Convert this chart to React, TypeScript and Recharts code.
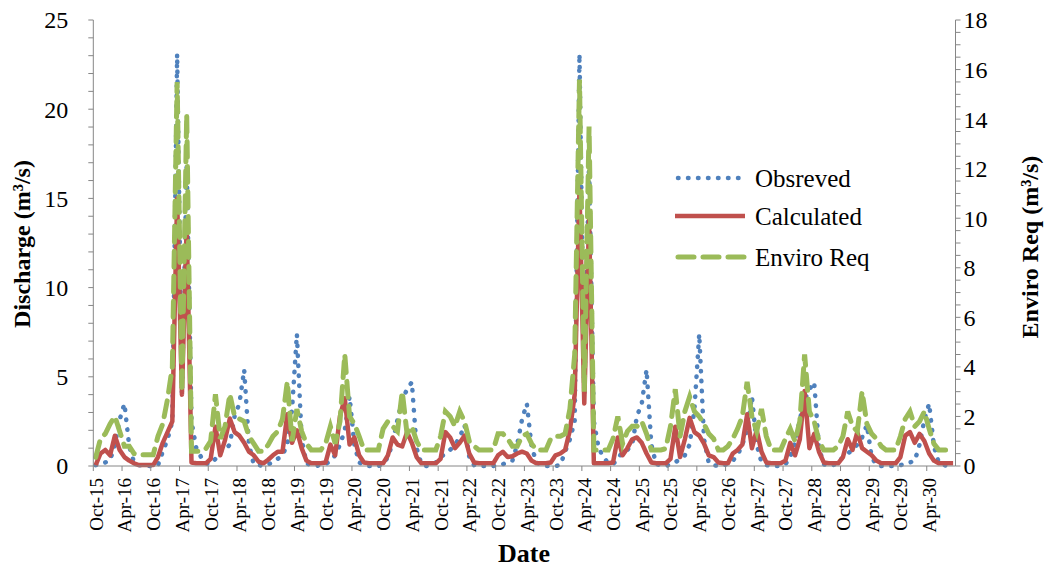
import React from 'react';
import { LineChart, Line, XAxis, YAxis, Legend } from 'recharts';

// month labels, Oct-15 .. Sep-30
const MONTHS = ['Oct', 'Nov', 'Dec', 'Jan', 'Feb', 'Mar', 'Apr', 'May', 'Jun', 'Jul', 'Aug', 'Sep'];
const dates = Array.from({ length: 180 }, (_, i) =>
  `${MONTHS[i % 12]}-${15 + Math.floor((i + 9) / 12)}`
);

// Observed discharge (m3/s), one row per Oct..Sep year
const observed = [
  0.05, 0.1, 0.2, 0.3, 1.2, 2.6, 3.5, 1.1, 0.2, 0.05, 0, 0,
  0, 0.05, 0.8, 1.5, 2.5, 23.1, 4.0, 17.0, 2.5, 1.0, 0.5, 0.15,
  0.1, 0.4, 0.8, 0.9, 1.2, 2.8, 3.5, 5.4, 1.2, 0.1, 0.05, 0,
  0.1, 0.2, 0.4, 0.6, 1.2, 3.2, 7.4, 1.5, 0.15, 0.05, 0, 0.05,
  0.1, 0.3, 0.6, 1.2, 2.0, 3.9, 1.2, 0.2, 0.05, 0, 0, 0,
  0.1, 0.5, 1.3, 2.6, 3.7, 4.3, 4.7, 1.0, 0.1, 0, 0.05, 0.2,
  0.5, 0.7, 0.9, 1.2, 1.6, 2.3, 0.5, 0.05, 0, 0, 0, 0,
  0.05, 0.1, 0.2, 0.3, 1.2, 2.6, 3.5, 1.1, 0.2, 0.05, 0, 0,
  0, 0.05, 0.8, 1.5, 2.5, 23.1, 4.0, 17.0, 2.5, 1.0, 0.5, 0.15,
  0.1, 0.4, 0.8, 0.9, 1.2, 2.8, 3.5, 5.4, 1.2, 0.1, 0.05, 0,
  0.1, 0.2, 0.4, 0.6, 1.2, 3.2, 7.4, 1.5, 0.15, 0.05, 0, 0.05,
  0.1, 0.3, 0.6, 1.2, 2.0, 3.9, 1.2, 0.2, 0.05, 0, 0, 0,
  0.1, 0.5, 1.3, 2.6, 3.7, 4.3, 4.7, 1.0, 0.1, 0, 0.05, 0.2,
  0.5, 0.7, 0.9, 1.2, 1.6, 2.3, 0.5, 0.05, 0, 0, 0, 0,
  0.05, 0.1, 0.2, 0.3, 1.2, 2.6, 3.5, 1.1, 0.2, 0.05, 0, 0,
];

// Calculated discharge (m3/s)
const calculated = [
  0.05, 0.7, 0.9, 0.6, 1.7, 0.9, 0.5, 0.3, 0.15, 0.05, 0.05, 0.05,
  0.05, 0.5, 1.3, 1.9, 2.5, 15.0, 4.0, 13.5, 0.2, 0.15, 0.15, 0.15,
  0.4, 2.2, 0.6, 1.45, 2.66, 1.9, 1.7, 1.3, 0.8, 0.6, 0.25, 0.15,
  0.35, 0.6, 0.8, 0.8, 2.9, 1.3, 2.0, 1.0, 0.3, 0.15, 0.15, 0.15,
  0.2, 1.2, 0.6, 2.8, 3.8, 1.2, 1.6, 0.6, 0.2, 0.15, 0.15, 0.15,
  0.15, 0.6, 1.6, 1.2, 1.1, 1.9, 1.3, 0.5, 0.15, 0.15, 0.15, 0.15,
  0.4, 1.9, 1.6, 1.0, 1.3, 1.7, 0.7, 0.2, 0.15, 0.15, 0.15, 0.15,
  0.6, 0.8, 0.5, 0.55, 0.7, 0.8, 0.7, 0.3, 0.15, 0.15, 0.15, 0.2,
  0.6, 0.7, 0.9, 2.0, 4.0, 15.5, 3.5, 13.8, 0.15, 0.15, 0.15, 0.15,
  0.2, 1.6, 0.6, 1.0, 1.5, 1.6, 1.3, 0.7, 0.2, 0.15, 0.15, 0.15,
  0.4, 2.2, 0.5, 1.5, 2.7, 1.9, 1.7, 1.25, 0.6, 0.5, 0.2, 0.15,
  0.15, 0.7, 0.9, 1.2, 2.9, 1.0, 2.0, 0.8, 0.2, 0.15, 0.15, 0.15,
  0.3, 1.3, 0.6, 1.5, 4.2, 1.0, 1.8, 0.8, 0.2, 0.15, 0.15, 0.15,
  0.5, 1.5, 0.9, 1.9, 1.0, 0.8, 0.6, 0.3, 0.15, 0.15, 0.15, 0.15,
  0.5, 1.7, 1.9, 1.3, 1.8, 1.4, 0.7, 0.3, 0.15, 0.15, 0.15, 0.15,
];

// Environmental requirement (m3/s), right axis
const enviroReq = [
  0.35, 1.1, 1.3, 1.7, 2.0, 1.4, 0.8, 0.8, 0.5, 0.45, 0.45, 0.45,
  0.45, 1.2, 1.7, 2.7, 4.0, 15.5, 3.0, 14.2, 0.6, 0.6, 0.6, 0.7,
  1.0, 2.9, 1.1, 1.6, 2.9, 2.0, 1.9, 1.8, 1.2, 0.9, 0.6, 0.6,
  0.85, 1.2, 1.4, 1.9, 3.4, 1.0, 2.3, 1.4, 0.9, 0.65, 0.65, 0.65,
  0.9, 1.6, 0.9, 1.8, 4.5, 2.0, 1.7, 1.2, 0.65, 0.65, 0.65, 0.65,
  1.5, 1.8, 1.6, 1.4, 3.0, 1.3, 1.6, 1.0, 0.65, 0.65, 0.65, 0.65,
  1.2, 2.2, 2.0, 1.6, 2.2, 1.8, 1.0, 0.8, 0.65, 0.65, 0.65, 0.65,
  1.3, 1.3, 1.1, 0.8, 0.8, 1.2, 1.3, 0.9, 0.65, 0.65, 0.65, 1.1,
  1.2, 1.2, 1.3, 2.3, 4.5, 15.6, 3.0, 13.7, 0.65, 0.65, 0.65, 0.65,
  1.1, 2.0, 0.9, 1.4, 1.6, 1.6, 1.8, 1.3, 0.65, 0.65, 0.65, 0.7,
  1.6, 3.1, 1.2, 2.2, 2.8, 2.2, 2.0, 1.7, 1.3, 1.1, 0.65, 0.65,
  0.8, 1.1, 1.5, 2.0, 3.4, 2.0, 1.4, 2.3, 1.2, 0.65, 0.65, 0.65,
  1.1, 1.5, 1.0, 1.8, 4.5, 2.2, 1.8, 1.0, 0.65, 0.65, 0.65, 0.8,
  1.2, 2.2, 1.6, 1.4, 3.0, 1.7, 1.3, 1.1, 0.8, 0.65, 0.65, 0.65,
  1.2, 1.9, 2.2, 1.6, 1.8, 2.2, 1.5, 0.9, 0.65, 0.65, 0.65, 0.65,
];

const leftTicks = [0, 1, 2, 3, 4, 5, 6, 7, 8, 9, 10, 11, 12, 13, 14, 15, 16, 17, 18, 19, 20, 21, 22, 23, 24, 25];
const rightTicks = [
  0, 0.5, 1, 1.5, 2, 2.5, 3, 3.5, 4, 4.5, 5, 5.5, 6, 6.5, 7, 7.5, 8, 8.5, 9,
  9.5, 10, 10.5, 11, 11.5, 12, 12.5, 13, 13.5, 14, 14.5, 15, 15.5, 16, 16.5, 17, 17.5, 18,
];

const data = dates.map((date, i) => ({
  date,
  observed: observed[i],
  calculated: calculated[i],
  enviro: enviroReq[i],
}));

const FONT = '"Liberation Serif", "Times New Roman", serif';
const AXIS = '#868686';
const SERIES_ORDER = ['observed', 'calculated', 'enviro'];

const STYLES: Record<string, { stroke: string; width: number; dash?: string; cap: 'round' | 'butt' }> = {
  observed: { stroke: '#4F81BD', width: 4.5, dash: '0.5 9.5', cap: 'round' },
  calculated: { stroke: '#C0504D', width: 4.5, cap: 'butt' },
  enviro: { stroke: '#9BBB59', width: 5, dash: '16 9', cap: 'round' },
};

const XTick = (props: any) => {
  const { x, y, payload } = props;
  return (
    <g>
      <line x1={x - 2.4} x2={x - 2.4} y1={y} y2={y + 5} stroke={AXIS} />
      <text
        transform={`translate(${x + 7},${y + 12}) rotate(-90)`}
        textAnchor="end"
        fontFamily={FONT}
        fontSize={19}
        fill="#000"
      >
        {payload.value}
      </text>
    </g>
  );
};

const LeftTick = (props: any) => {
  const { x, y, payload } = props;
  return (
    <g>
      <line x1={x - 5} x2={x} y1={y} y2={y} stroke={AXIS} />
      {payload.value % 5 === 0 && (
        <text x={x - 25} y={y} dy="0.35em" textAnchor="end" fontFamily={FONT} fontSize={24} fill="#000">
          {payload.value}
        </text>
      )}
    </g>
  );
};

const RightTick = (props: any) => {
  const { x, y, payload } = props;
  return (
    <g>
      <line x1={x} x2={x + 5} y1={y} y2={y} stroke={AXIS} />
      {payload.value % 2 === 0 && (
        <text x={x + 8} y={y} dy="0.35em" textAnchor="start" fontFamily={FONT} fontSize={24} fill="#000">
          {payload.value}
        </text>
      )}
    </g>
  );
};

// axis title; uses its own coordinate props so Recharts' injected x/y don't move it
const Title = ({ px, py, text, rotate, size }: { px: number; py: number; text: string; rotate?: boolean; size: number }) => (
  <text
    x={px}
    y={py}
    transform={rotate ? `rotate(-90 ${px} ${py})` : undefined}
    textAnchor="middle"
    dominantBaseline="central"
    fontFamily={FONT}
    fontWeight="bold"
    fontSize={size}
    fill="#000"
  >
    {text}
  </text>
);

const renderLegend = (props: any) => {
  const items = [...(props.payload || [])].sort(
    (a: any, b: any) => SERIES_ORDER.indexOf(a.dataKey) - SERIES_ORDER.indexOf(b.dataKey)
  );
  return (
    <svg width={240} height={115}>
      {items.map((entry: any, k: number) => {
        const s = STYLES[entry.dataKey];
        const cy = [18, 56, 97][k];
        return (
          <g key={entry.dataKey}>
            <line
              x1={s.dash ? 8 : 5}
              x2={75}
              y1={cy}
              y2={cy}
              stroke={s.stroke}
              strokeWidth={s.width}
              strokeDasharray={s.dash}
              strokeLinecap={s.cap}
            />
            <text x={85} y={cy} dominantBaseline="central" fontFamily={FONT} fontSize={25} fill="#000">
              {entry.value}
            </text>
          </g>
        );
      })}
    </svg>
  );
};

const App: React.FC = () => {
  return (
    <div style={{ position: 'absolute', left: 0, top: 0, width: 1047, height: 569, background: '#fff' }}>
      <LineChart width={1047} height={569} data={data} margin={{ top: 20, right: 0, bottom: 0, left: 0 }}>
        <XAxis
          dataKey="date"
          interval={5}
          height={103}
          padding={{ left: 2.4, right: 2.4 }}
          tickSize={0}
          tickMargin={0}
          tickLine={false}
          axisLine={{ stroke: AXIS }}
          tick={<XTick />}
          label={<Title px={524} py={553} text="Date" size={26} />}
        />
        <YAxis
          yAxisId="left"
          domain={[0, 25]}
          ticks={leftTicks}
          interval={0}
          width={93.3}
          tickSize={0}
          tickMargin={0}
          tickLine={false}
          axisLine={{ stroke: AXIS }}
          tick={<LeftTick />}
          label={<Title px={22} py={244} text="Discharge (m³/s)" rotate size={24} />}
        />
        <YAxis
          yAxisId="right"
          orientation="right"
          domain={[0, 18]}
          ticks={rightTicks}
          interval={0}
          width={91.5}
          tickSize={0}
          tickMargin={0}
          tickLine={false}
          axisLine={{ stroke: AXIS }}
          tick={<RightTick />}
          label={<Title px={1030} py={247} text="Enviro Req (m³/s)" rotate size={24} />}
        />
        <Legend
          layout="vertical"
          align="center"
          verticalAlign="middle"
          content={renderLegend}
          wrapperStyle={{ left: 670, top: 160, width: 240, height: 115 }}
        />
        <Line
          yAxisId="left"
          type="linear"
          dataKey="observed"
          name="Obsreved"
          stroke={STYLES.observed.stroke}
          strokeWidth={STYLES.observed.width}
          strokeDasharray={STYLES.observed.dash}
          strokeLinecap="round"
          dot={false}
          isAnimationActive={false}
        />
        <Line
          yAxisId="left"
          type="linear"
          dataKey="calculated"
          name="Calculated"
          stroke={STYLES.calculated.stroke}
          strokeWidth={STYLES.calculated.width}
          strokeLinejoin="round"
          dot={false}
          isAnimationActive={false}
        />
        <Line
          yAxisId="right"
          type="linear"
          dataKey="enviro"
          name="Enviro Req"
          stroke={STYLES.enviro.stroke}
          strokeWidth={STYLES.enviro.width}
          strokeDasharray={STYLES.enviro.dash}
          strokeLinecap="round"
          dot={false}
          isAnimationActive={false}
        />
      </LineChart>
    </div>
  );
};

export default App;
